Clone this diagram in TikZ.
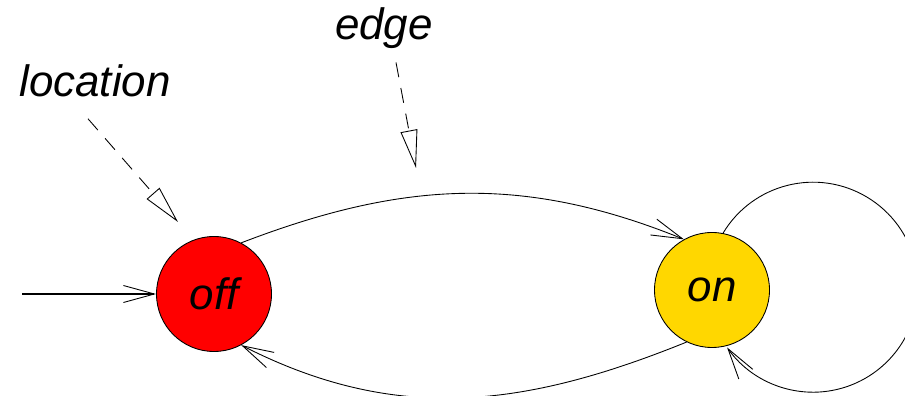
\documentclass[tikz,border=0pt]{standalone}
\usepackage{fontspec}
\setmainfont{Liberation Sans}
\usetikzlibrary{arrows.meta,positioning}
\definecolor{offred}{HTML}{FF0000}
\definecolor{ongold}{HTML}{FFD700}

\begin{document}
\begin{tikzpicture}[
 state/.style={circle,draw,line width=.5pt,minimum size=2.3cm,inner sep=0pt,font=\fontsize{25}{30}\selectfont\itshape},
 lbl/.style={font=\fontsize{25}{30}\selectfont\itshape,inner sep=0pt,anchor=base},
 trans/.style={line width=.5pt,-{Straight Barb[length=.62cm,width=.34cm,line width=.5pt]}},
 pointer/.style={line width=.5pt,dash pattern=on .3cm off .22cm,-{Triangle[open,length=.76cm,width=.34cm]}}]
\useasboundingbox (0,0) rectangle (18.1,-7.92);
\node[state,fill=offred] (off) at (4.28,-5.88) {off};
\node[state,fill=ongold] (on) at (14.24,-5.8) {on};
\node[lbl] (location) at (1.9,-1.94) {location};
\node[lbl] (edge) at (7.68,-.8) {edge};
\coordinate (init) at (.44,-5.88);
\coordinate (loctip) at (3.56,-4.44);\coordinate (edgetip) at (8.32,-3.36);
% transitions
\draw[trans,line width=1.1pt] (init)--(off);
\draw[trans] (off.62) to[out=21,in=158] (on.119);
\draw[trans] (on.244) to[out=202,in=-27] (off.-62);
\draw[trans] (on.79) arc[start angle=149,end angle=-145,radius=2.1cm];
% annotations
\draw[pointer] ([xshift=-.14cm,yshift=-.42cm]location.south)--(loctip);
\draw[pointer] ([xshift=.24cm,yshift=-.26cm]edge.south)--(edgetip);
\end{tikzpicture}
\end{document}
